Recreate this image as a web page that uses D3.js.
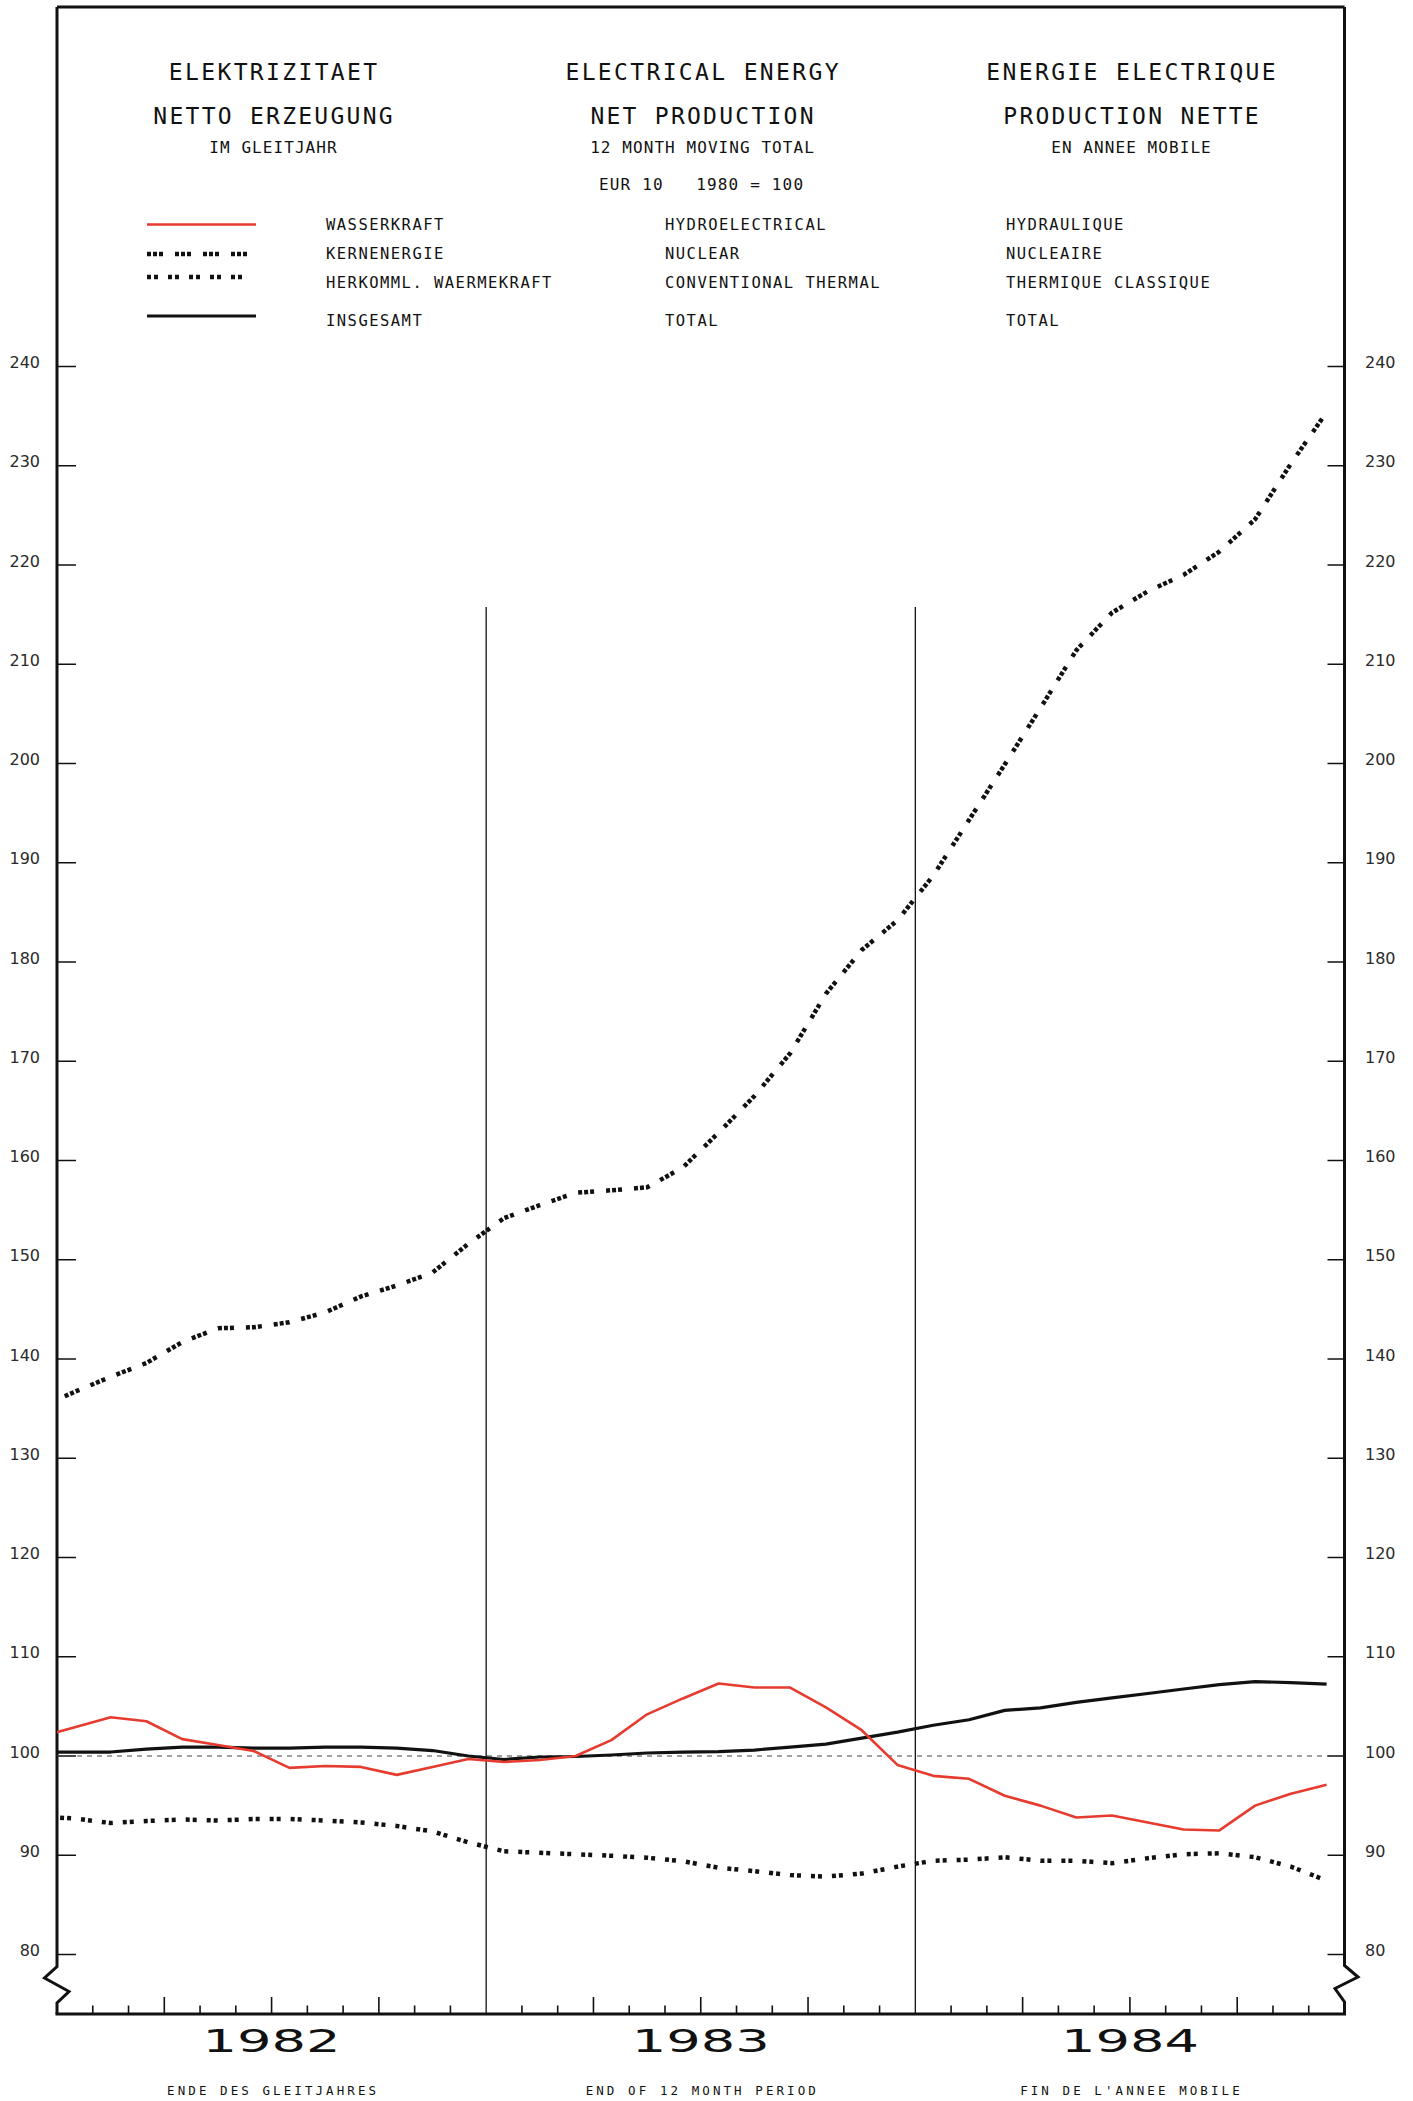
<!DOCTYPE html>
<html><head><meta charset="utf-8">
<script src="https://cdn.jsdelivr.net/npm/d3@7"></script>
<style>body{margin:0;background:#fff}svg{display:block}</style>
</head><body>
<svg id="c" width="1413" height="2101"></svg>
<script>
// ---- data (12-month moving totals, EUR 10, 1980 = 100), plotted at mid-month ----
const months = ["1981-12",
  "1982-01","1982-02","1982-03","1982-04","1982-05","1982-06","1982-07","1982-08","1982-09","1982-10","1982-11","1982-12",
  "1983-01","1983-02","1983-03","1983-04","1983-05","1983-06","1983-07","1983-08","1983-09","1983-10","1983-11","1983-12",
  "1984-01","1984-02","1984-03","1984-04","1984-05","1984-06","1984-07","1984-08","1984-09","1984-10","1984-11","1984-12"];
const hydro   = [101.9,102.9,103.9,103.5,101.7,101.1,100.5,98.8,99.0,98.9,98.1,98.9,99.7,99.4,99.6,100.0,101.6,104.2,105.8,107.3,106.9,106.9,104.9,102.6,99.1,98.0,97.7,96.0,95.0,93.8,94.0,93.3,92.6,92.5,95.0,96.2,97.1];
const nuclear = [135.1,136.7,138.2,139.6,141.7,143.1,143.2,143.7,144.7,146.3,147.4,148.7,151.6,154.2,155.5,156.75,157.0,157.3,159.3,162.8,166.5,170.8,176.8,181.2,184.2,188.7,194.3,199.9,205.6,211.4,215.2,217.35,219.0,221.35,224.6,230.2,235.4];
const thermal = [93.9,93.7,93.25,93.45,93.6,93.5,93.65,93.65,93.5,93.3,92.95,92.4,91.3,90.4,90.25,90.1,89.95,89.75,89.4,88.75,88.4,88.0,87.85,88.15,88.85,89.45,89.55,89.8,89.45,89.45,89.2,89.7,90.1,90.2,89.8,88.85,87.45];
const total   = [100.4,100.4,100.4,100.7,100.9,100.9,100.8,100.8,100.9,100.9,100.8,100.55,100.0,99.65,99.9,99.95,100.1,100.3,100.4,100.45,100.6,100.9,101.2,101.8,102.4,103.1,103.65,104.6,104.85,105.4,105.85,106.3,106.75,107.2,107.5,107.4,107.25];
const yTicks = [80,90,100,110,120,130,140,150,160,170,180,190,200,210,220,230,240];
const years = ["1982","1983","1984"];
const footer = ["ENDE DES GLEITJAHRES","END OF 12 MONTH PERIOD","FIN DE L'ANNEE MOBILE"];
const titles = [
  ["ELEKTRIZITAET","NETTO ERZEUGUNG","IM GLEITJAHR"],
  ["ELECTRICAL ENERGY","NET PRODUCTION","12 MONTH MOVING TOTAL"],
  ["ENERGIE ELECTRIQUE","PRODUCTION NETTE","EN ANNEE MOBILE"]];
const baseNote = "EUR 10   1980 = 100";
const legendDE = ["WASSERKRAFT","KERNENERGIE","HERKOMML. WAERMEKRAFT","INSGESAMT"];
const legendEN = ["HYDROELECTRICAL","NUCLEAR","CONVENTIONAL THERMAL","TOTAL"];
const legendFR = ["HYDRAULIQUE","NUCLEAIRE","THERMIQUE CLASSIQUE","TOTAL"];

// ---- layout ----
const X0 = 57, X1 = 1344.5, YTOP = 7, YBOT = 2014;
const RED = "#e63b2e", INK = "#111";
const x = d3.scaleLinear().domain([0, 36]).range([X0, X1]);
const y = d3.scaleLinear().domain([80, 240]).range([1954.5, 366.5]);
const svg = d3.select("#c");

const styles = {
  hydro:   {stroke: RED, width: 2.6, dash: null},
  nuclear: {stroke: INK, width: 4.5, dash: "4,2,4,2,4,12"},
  thermal: {stroke: INK, width: 4.5, dash: "4,3,4,10"},
  total:   {stroke: INK, width: 3.2, dash: null}
};

function mono(g, px, py, str, fs, adv, anchor) {
  const ls = adv - 0.602 * fs;
  const t = g.append("text").attr("x", px).attr("y", py)
    .attr("font-family", "DejaVu Sans Mono").attr("font-size", fs)
    .attr("letter-spacing", ls).attr("fill", INK)
    .style("white-space", "pre").text(str);
  if (anchor === "middle") t.attr("text-anchor", "middle").attr("dx", ls / 2);
  return t;
}

// ---- titles ----
const head = svg.append("g");
const cols = [273, 702, 1131];
titles.forEach((t, i) => {
  mono(head, cols[i], 80, t[0], 23, 16.2, "middle");
  mono(head, cols[i], 124, t[1], 23, 16.1, "middle");
  mono(head, cols[i], 153, t[2], 16, 10.7, "middle");
});
mono(head, 599, 190, baseNote, 16, 10.8, "start");

// ---- legend ----
const legRows = [230, 259, 288, 326];
const legLineY = [224.5, 254, 277, 316];
const legKeys = ["hydro", "nuclear", "thermal", "total"];
const legEnds = [256, 256, 246, 256];
legKeys.forEach((k, i) => {
  const s = styles[k];
  head.append("line").attr("x1", 147).attr("x2", legEnds[i])
    .attr("y1", legLineY[i]).attr("y2", legLineY[i])
    .attr("stroke", s.stroke).attr("stroke-width", s.width)
    .attr("stroke-dasharray", s.dash);
  mono(head, 326, legRows[i], legendDE[i], 15.5, 10.8, "start");
  mono(head, 665, legRows[i], legendEN[i], 15.5, 10.8, "start");
  mono(head, 1006, legRows[i], legendFR[i], 15.5, 10.8, "start");
});

// ---- frame: top border, axes with break symbols ----
const frame = svg.append("g").attr("fill", "none").attr("stroke", INK)
  .attr("stroke-width", 3).attr("stroke-linejoin", "miter");
frame.append("line").attr("x1", X0).attr("x2", X1).attr("y1", YTOP).attr("y2", YTOP);
frame.append("path").attr("d",
  `M${X0},${YTOP} L${X0},1966.5 L${X0 - 12.5},1978 L${X0 + 12},1991.5 L${X0},2003 L${X0},${YBOT}`);
frame.append("path").attr("d",
  `M${X1},${YTOP} L${X1},1965.5 L${X1 + 13.5},1977 L${X1 - 9.5},1988.5 L${X1},2002 L${X1},${YBOT}`);
frame.append("line").attr("x1", X0 - 1.5).attr("x2", X1 + 1.5).attr("y1", YBOT).attr("y2", YBOT);

// ---- y ticks & labels (both sides) ----
const yt = svg.append("g");
yTicks.forEach(v => {
  yt.append("line").attr("x1", X0).attr("x2", X0 + 19).attr("y1", y(v)).attr("y2", y(v))
    .attr("stroke", INK).attr("stroke-width", 1.5);
  yt.append("line").attr("x1", X1 - 17).attr("x2", X1).attr("y1", y(v)).attr("y2", y(v))
    .attr("stroke", INK).attr("stroke-width", 1.5);
  yt.append("text").attr("x", 40).attr("y", y(v) + 1.6).attr("text-anchor", "end")
    .attr("font-family", "DejaVu Sans").attr("font-size", 16).attr("fill", "#2a2a2a").text(v);
  yt.append("text").attr("x", 1365).attr("y", y(v) + 1.6).attr("text-anchor", "start")
    .attr("font-family", "DejaVu Sans").attr("font-size", 16).attr("fill", "#2a2a2a").text(v);
});

// ---- month ticks on bottom axis & year dividers ----
const bt = svg.append("g").attr("stroke", INK);
d3.range(1, 36).forEach(m => {
  if (m % 12 === 0) return;
  const h = (m % 3 === 0) ? 17 : 8.5;
  bt.append("line").attr("x1", x(m)).attr("x2", x(m)).attr("y1", YBOT).attr("y2", YBOT - h)
    .attr("stroke-width", 1.6);
});
[12, 24].forEach(m => {
  bt.append("line").attr("x1", x(m)).attr("x2", x(m)).attr("y1", 607).attr("y2", YBOT)
    .attr("stroke-width", 1.3);
});

// ---- 100 reference line ----
svg.append("line").attr("x1", X0).attr("x2", X1).attr("y1", y(100)).attr("y2", y(100))
  .attr("stroke", "#444").attr("stroke-width", 1).attr("stroke-dasharray", "5,5");

// ---- year labels & footers ----
years.forEach((yr, i) => {
  const cx = x(6 + 12 * i);
  svg.append("text").attr("x", cx).attr("y", 2052).attr("text-anchor", "middle")
    .attr("font-family", "DejaVu Sans").attr("font-size", 32)
    .attr("textLength", 138).attr("lengthAdjust", "spacingAndGlyphs")
    .attr("fill", INK).text(yr);
  mono(svg, cx, 2095, footer[i], 12.5, 10.6, "middle");
});

// ---- series ----
svg.append("defs").append("clipPath").attr("id", "plot")
  .append("rect").attr("x", X0).attr("y", 0).attr("width", X1 - X0).attr("height", YBOT);
const line = d3.line().x((d, i) => x(i - 0.5)).y(d => y(d));
const plot = svg.append("g").attr("clip-path", "url(#plot)");
[["thermal", thermal], ["nuclear", nuclear], ["total", total], ["hydro", hydro]].forEach(([k, data]) => {
  const s = styles[k];
  plot.append("path").datum(data).attr("d", line)
    .attr("fill", "none").attr("stroke", s.stroke).attr("stroke-width", s.width)
    .attr("stroke-dasharray", s.dash).attr("stroke-linejoin", "round");
});
</script>
</body></html>
